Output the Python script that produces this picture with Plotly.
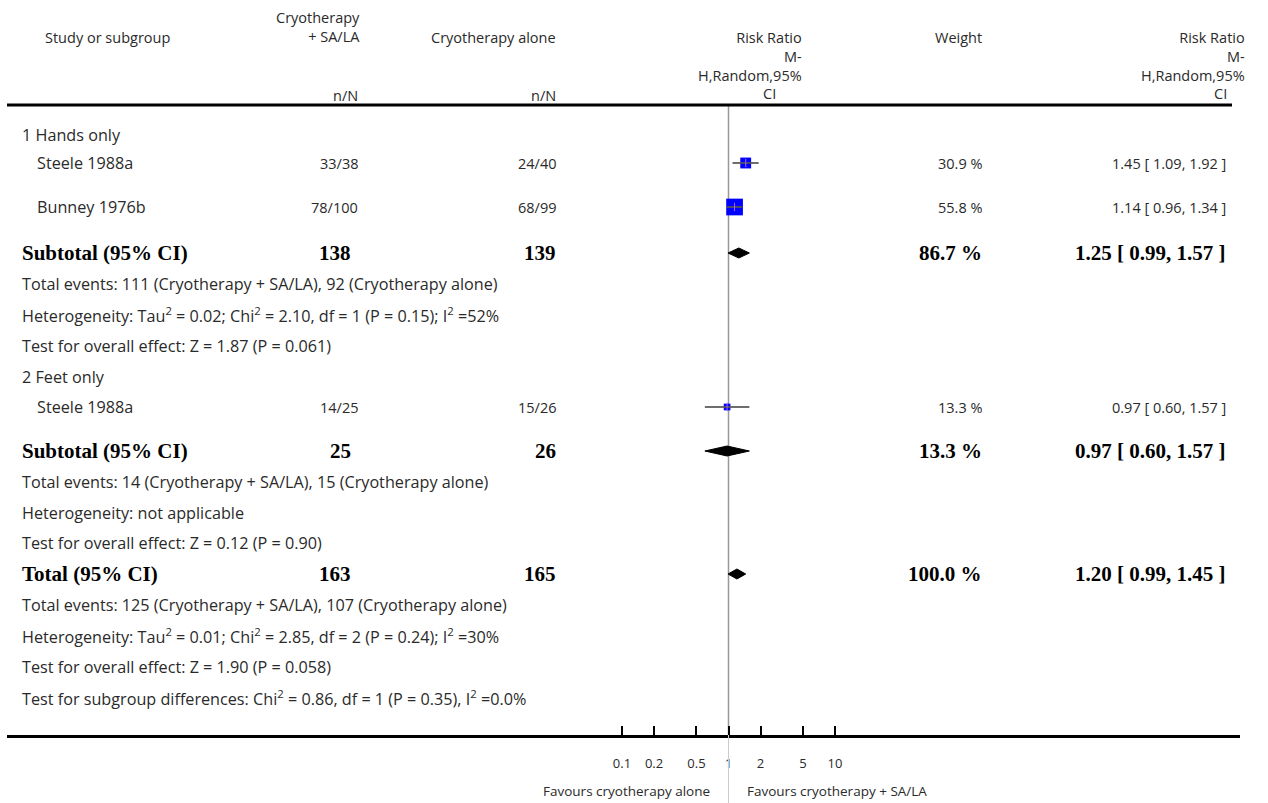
import plotly.graph_objects as go

# ---------------- data ----------------
group_labels = ["1 Hands only", "2 Feet only"]
study_names = ["Steele 1988a", "Bunney 1976b", "Steele 1988a"]
exp_events = [33, 78, 14]
exp_totals = [38, 100, 25]
ctl_events = [24, 68, 15]
ctl_totals = [40, 99, 26]
study_rr = [1.45, 1.14, 0.97]
study_lo = [1.09, 0.96, 0.60]
study_hi = [1.92, 1.34, 1.57]
study_weight = [30.9, 55.8, 13.3]

sub_exp_totals = [138, 25]
sub_ctl_totals = [139, 26]
sub_weight = [86.7, 13.3]
sub_rr = [1.25, 0.97]
sub_lo = [0.99, 0.60]
sub_hi = [1.57, 1.57]
sub_events_text = [
    "Total events: 111 (Cryotherapy + SA/LA), 92 (Cryotherapy alone)",
    "Total events: 14 (Cryotherapy + SA/LA), 15 (Cryotherapy alone)",
]
sub_het_text = [
    "Heterogeneity: Tau<sup>2</sup> = 0.02; Chi<sup>2</sup> = 2.10, df = 1 (P = 0.15); I<sup>2</sup> =52%",
    "Heterogeneity: not applicable",
]
sub_z_text = [
    "Test for overall effect: Z = 1.87 (P = 0.061)",
    "Test for overall effect: Z = 0.12 (P = 0.90)",
]

total_exp = 163
total_ctl = 165
total_weight = 100.0
total_rr = 1.20
total_lo = 0.99
total_hi = 1.45
total_texts = [
    "Total events: 125 (Cryotherapy + SA/LA), 107 (Cryotherapy alone)",
    "Heterogeneity: Tau<sup>2</sup> = 0.01; Chi<sup>2</sup> = 2.85, df = 2 (P = 0.24); I<sup>2</sup> =30%",
    "Test for overall effect: Z = 1.90 (P = 0.058)",
    "Test for subgroup differences: Chi<sup>2</sup> = 0.86, df = 1 (P = 0.35), I<sup>2</sup> =0.0%",
]

tick_vals = [0.1, 0.2, 0.5, 1, 2, 5, 10]
tick_text = ["0.1", "0.2", "0.5", "1", "2", "5", "10"]
favours_left = "Favours cryotherapy alone"
favours_right = "Favours cryotherapy + SA/LA"

# ---------------- layout constants ----------------
W, H = 1268, 803
AXIS_PX = 735
LINE_L, LINE_R = 7, 1240
CENTER_PX = 728.5
DECADE_PX = 106.5
xr = [(LINE_L - CENTER_PX) / DECADE_PX, (LINE_R - CENTER_PX) / DECADE_PX]

group_y = [135, 377]
study_y = [163, 207, 407]
sub_y = [253, 451]
sub_info_y = [[284, 315, 346], [482, 513, 543]]
total_y = 574
total_info_y = [605, 636, 667, 698]

COL_EXP = 359
COL_CTL = 557
COL_W = 983
COL_RR = 1227
LEFT = 21

SANS = "'Open Sans', Lato, sans-serif"
REG = dict(family=SANS, size=16.2, color="#2a2a2a")
NUM = dict(family=SANS, size=14.5, color="#2a2a2a")
HDR = dict(family=SANS, size=14.5, color="#2a2a2a")
BOLD = dict(family="'Liberation Serif', 'Times New Roman', serif", size=21, color="#000")

def px(x):
    return x / W

ann = []

def text(x, y, s, font, anchor="left", bold=False, align="left", yanchor="middle"):
    if bold:
        s = "<b>" + s + "</b>"
    ann.append(dict(x=px(x), y=y, xref="paper", yref="y", text=s, showarrow=False,
                    xanchor=anchor, yanchor=yanchor, font=font, borderpad=0, align=align))

# headers
text(44, 37, "Study or subgroup", HDR)
text(COL_EXP + 2, 27, "Cryotherapy<br>+ SA/LA", HDR, "right", align="right")
text(COL_EXP, 95, "n/N", HDR, "right")
text(COL_CTL, 37, "Cryotherapy alone", HDR, "right")
text(COL_CTL, 95, "n/N", HDR, "right")
text(803, 27, "Risk Ratio<br>M-<br>H,Random,95%", HDR, "right", align="right", yanchor="top")
text(777, 93, "CI", HDR, "right")
text(COL_W, 37, "Weight", HDR, "right")
text(1246, 27, "Risk Ratio<br>M-<br>H,Random,95%", HDR, "right", align="right", yanchor="top")
text(1228, 93, "CI", HDR, "right")

for g in range(2):
    text(LEFT, group_y[g], group_labels[g], REG)
for i in range(3):
    y = study_y[i]
    text(LEFT + 15, y, study_names[i], REG)
    text(COL_EXP, y, f"{exp_events[i]}/{exp_totals[i]}", NUM, "right")
    text(COL_CTL, y, f"{ctl_events[i]}/{ctl_totals[i]}", NUM, "right")
    text(COL_W, y, f"{study_weight[i]:.1f} %", NUM, "right")
    text(COL_RR, y, f"{study_rr[i]:.2f} [ {study_lo[i]:.2f}, {study_hi[i]:.2f} ]", NUM, "right")

for g in range(2):
    y = sub_y[g]
    text(LEFT, y, "Subtotal (95% CI)", BOLD, bold=True)
    text(COL_EXP - 7, y, str(sub_exp_totals[g]), BOLD, "right", True)
    text(COL_CTL, y, str(sub_ctl_totals[g]), BOLD, "right", True)
    text(COL_W, y, f"{sub_weight[g]:.1f} %", BOLD, "right", True)
    text(COL_RR, y, f"{sub_rr[g]:.2f} [ {sub_lo[g]:.2f}, {sub_hi[g]:.2f} ]", BOLD, "right", True)
    for yy, s in zip(sub_info_y[g], [sub_events_text[g], sub_het_text[g], sub_z_text[g]]):
        text(LEFT, yy, s, REG)

text(LEFT, total_y, "Total (95% CI)", BOLD, bold=True)
text(COL_EXP - 7, total_y, str(total_exp), BOLD, "right", True)
text(COL_CTL, total_y, str(total_ctl), BOLD, "right", True)
text(COL_W, total_y, f"{total_weight:.1f} %", BOLD, "right", True)
text(COL_RR, total_y, f"{total_rr:.2f} [ {total_lo:.2f}, {total_hi:.2f} ]", BOLD, "right", True)
for yy, s in zip(total_info_y, total_texts):
    text(LEFT, yy, s, REG)

for s, anchor, xx in [(favours_left, "right", CENTER_PX - 17), (favours_right, "left", CENTER_PX + 17)]:
    ann.append(dict(x=px(xx), y=(H - 791) / H, xref="paper", yref="paper", text=s,
                    showarrow=False, xanchor=anchor, yanchor="middle", borderpad=0,
                    font=dict(family=SANS, size=13.5, color="#2a2a2a")))

fig = go.Figure()

fig.add_trace(go.Scatter(x=[1, 1], y=[105, AXIS_PX], mode="lines",
                         line=dict(color="#999", width=1.5), hoverinfo="skip"))

fig.add_trace(go.Scatter(x=study_rr, y=study_y, mode="markers",
                         marker=dict(symbol="square", color="#0000ff", opacity=1,
                                     size=[3.6 + 0.235 * w for w in study_weight],
                                     line=dict(width=0))))
cx, cy = [], []
for i in range(3):
    cx += [study_lo[i], study_hi[i], None]
    cy += [study_y[i], study_y[i], None]
fig.add_trace(go.Scatter(x=cx, y=cy, mode="lines", line=dict(color="#555", width=2),
                         opacity=0.85, hoverinfo="skip"))
fig.add_trace(go.Scatter(x=study_rr, y=study_y, mode="markers",
                         marker=dict(symbol="line-ns-open", size=6, opacity=1,
                                     line=dict(color="#222", width=1))))
DH = 5
for est, lo, hi, y in list(zip(sub_rr, sub_lo, sub_hi, sub_y)) + [(total_rr, total_lo, total_hi, total_y)]:
    fig.add_trace(go.Scatter(x=[lo, est, hi, est, lo], y=[y, y - DH, y, y + DH, y],
                             mode="lines", fill="toself", fillcolor="#000",
                             line=dict(color="#000", width=1), hoverinfo="skip"))

shapes = [
    dict(type="line", xref="paper", yref="y", x0=px(LINE_L), x1=px(1232), y0=105, y1=105,
         line=dict(color="#000", width=3)),
    dict(type="line", xref="paper", yref="paper", x0=px(CENTER_PX), x1=px(CENTER_PX),
         y0=0, y1=(H - AXIS_PX) / H, line=dict(color="#ccc", width=1)),
]

fig.update_layout(
    width=W, height=H,
    margin=dict(l=0, r=0, t=0, b=0),
    paper_bgcolor="white", plot_bgcolor="white",
    showlegend=False, hovermode=False,
    annotations=ann, shapes=shapes,
    xaxis=dict(type="log", range=xr, domain=[px(LINE_L), px(LINE_R)],
               showgrid=False, zeroline=False, showline=True, linecolor="#000", linewidth=3,
               ticks="inside", ticklen=9, tickwidth=2, tickcolor="#000",
               tickvals=tick_vals, ticktext=tick_text, ticklabelstandoff=14,
               tickfont=dict(family=SANS, size=13, color="#2a2a2a"),
               fixedrange=True),
    yaxis=dict(range=[AXIS_PX, 0], domain=[(H - AXIS_PX) / H, 1], visible=False,
               fixedrange=True),
)

fig.write_html("out.html")
